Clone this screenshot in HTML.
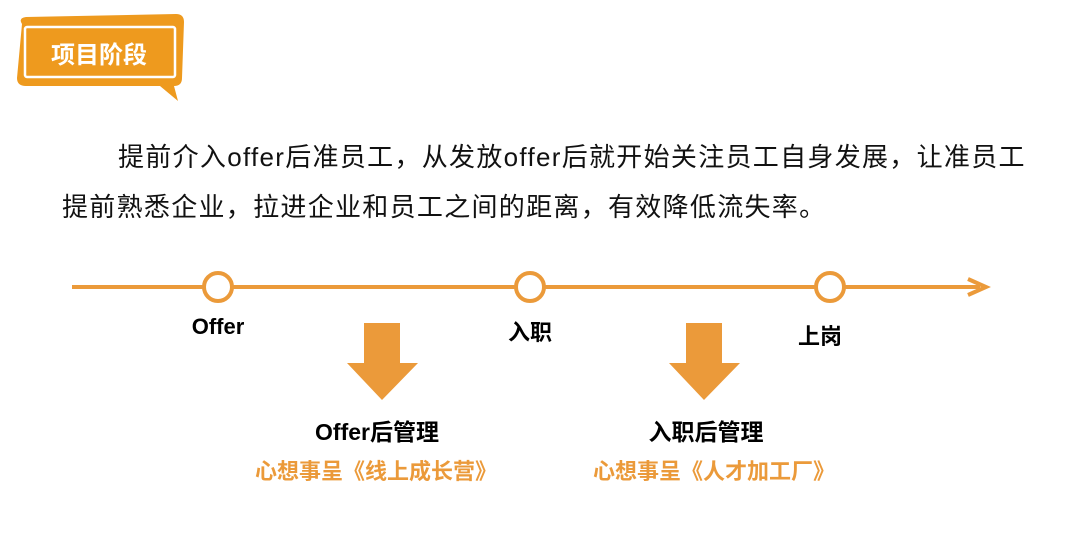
<!DOCTYPE html>
<html><head><meta charset="utf-8"><style>
body{margin:0;width:1071px;height:551px;background:#fff;position:relative;overflow:hidden;font-family:"Liberation Sans","Noto Sans CJK SC",sans-serif}
.p{position:absolute;left:62px;font-size:26px;color:#111;white-space:nowrap;letter-spacing:1.3px}
.t{position:absolute;font-weight:bold;white-space:nowrap;transform:translateX(-50%)}
</style></head><body>
<svg width="1071" height="551" style="position:absolute;left:0;top:0">
<path d="M22 24 Q18 18 26 17 L176 14 Q184 14 184 22 L182 78 Q182 86 174 86 L178 101 L160 86 L26 86 Q17 86 17 78 Z" fill="#ee9a1e"/>
<rect x="25" y="27" width="150" height="50" fill="none" stroke="#fff" stroke-width="2.5" rx="2"/>
<line x1="72" y1="287" x2="980" y2="287" stroke="#eb9a3a" stroke-width="4"/>
<path d="M968 279 L986 287 L968 295" fill="none" stroke="#eb9a3a" stroke-width="4"/>
<circle cx="218" cy="287" r="14" fill="#fff" stroke="#eb9a3a" stroke-width="4"/>
<circle cx="530" cy="287" r="14" fill="#fff" stroke="#eb9a3a" stroke-width="4"/>
<circle cx="830" cy="287" r="14" fill="#fff" stroke="#eb9a3a" stroke-width="4"/>
<path d="M364 323 H400 V363 H418 L382 400 L347 363 H364 Z" fill="#eb9a3a"/>
<path d="M686 323 H722 V363 H740 L704 400 L669 363 H686 Z" fill="#eb9a3a"/>
</svg>
<div class="t" style="left:99px;top:35px;font-size:24px;color:#fff">项目阶段</div>
<div class="p" style="top:137px;left:118px">提前介入offer后准员工，从发放offer后就开始关注员工自身发展，让准员工</div>
<div class="p" style="top:187px">提前熟悉企业，拉进企业和员工之间的距离，有效降低流失率。</div>
<div class="t" style="left:218px;top:314px;font-size:22px">Offer</div>
<div class="t" style="left:530px;top:315px;font-size:22px">入职</div>
<div class="t" style="left:820px;top:319px;font-size:22px">上岗</div>
<div class="t" style="left:377px;top:413px;font-size:23px">Offer后管理</div>
<div class="t" style="left:706px;top:413px;font-size:23px">入职后管理</div>
<div class="t" style="left:376px;top:454px;font-size:22px;color:#eb9a3a">心想事呈《线上成长营》</div>
<div class="t" style="left:714px;top:454px;font-size:22px;color:#eb9a3a">心想事呈《人才加工厂》</div>
</body></html>
